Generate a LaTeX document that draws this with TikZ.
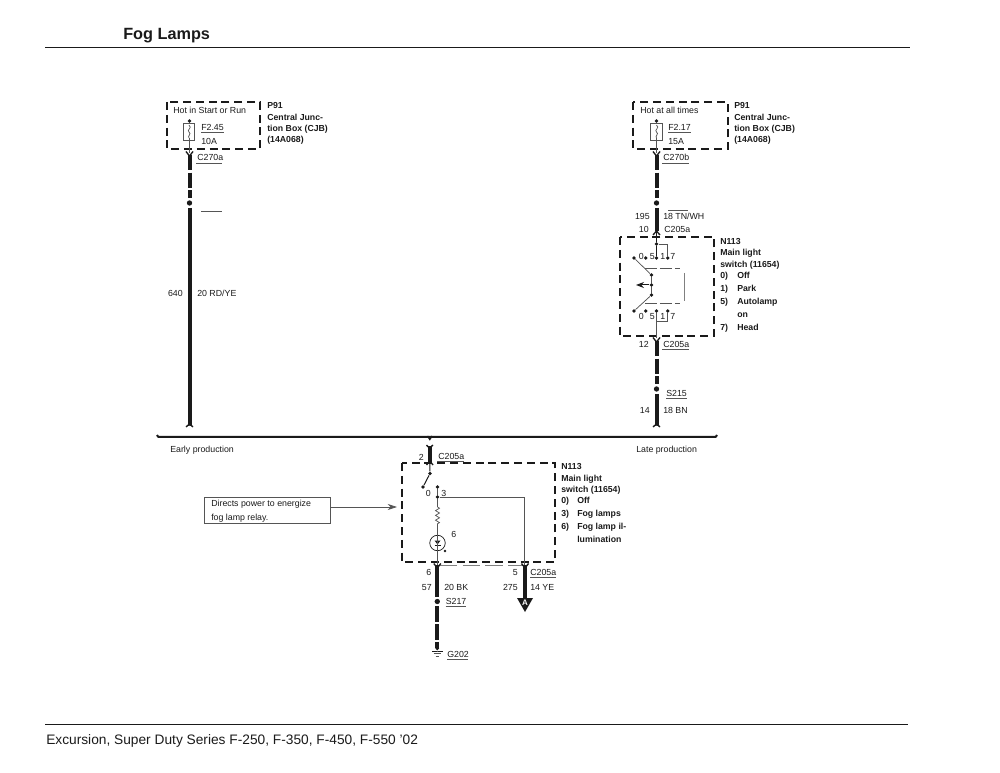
\documentclass[tikz,border=0pt]{standalone}
\usepackage{fontspec}
\setmainfont{Liberation Sans}
\usetikzlibrary{arrows.meta,decorations.pathmorphing}
\definecolor{ink}{HTML}{1A1A1A}
\definecolor{thin}{HTML}{555555}
\tikzset{
 lab/.style={anchor=base west,inner sep=0pt,yshift=-0.6pt,text=ink,font=\fontsize{6.6}{8}\selectfont},
 labr/.style={anchor=base east,inner sep=0pt,yshift=-0.6pt,text=ink,font=\fontsize{6.6}{8}\selectfont},
 bold/.style={anchor=base west,inner sep=0pt,yshift=-0.6pt,text=ink,font=\fontsize{6.55}{8}\selectfont\bfseries},
 modbox/.style={draw=ink,line width=1.5pt,dash pattern=on 6pt off 3.6pt},
 wire/.style={draw=ink,line width=3pt},
 wiredash/.style={draw=ink,line width=3pt,dash pattern=on 11.5pt off 1.8pt},
 fine/.style={draw=thin,line width=0.55pt},
 blk/.style={draw=ink,line width=0.75pt},
 pt/.style={circle,fill=ink,inner sep=0pt,minimum size=2.7pt},
 bigpt/.style={circle,fill=ink,inner sep=0pt,minimum size=4pt},
 rule/.style={draw=ink,line width=0.6pt},
 ulin/.style={draw=thin,line width=0.45pt},
 fuse/.style={draw=thin,line width=0.55pt,fill=white,minimum width=8.6pt,minimum height=12.8pt,inner sep=0pt},
 chev/.style={draw=ink,line width=1pt},
 swdash/.style={draw=thin,line width=0.55pt,dash pattern=on 9pt off 2.2pt},
}
\begin{document}
\begin{tikzpicture}[x=0.75pt,y=-0.75pt]
\useasboundingbox (0,0) rectangle (1000,773);
% header / footer
\node[anchor=base west,inner sep=0pt,text=ink,font=\fontsize{12.2}{14}\selectfont\bfseries] (title) at (123,39.5) {Fog Lamps};
\coordinate (hl) at (45,47); \coordinate (hr) at (910,47);
\draw[rule] (hl) -- (hr);
\coordinate (fl) at (45,724); \coordinate (fr) at (908,724);
\draw[rule] (fl) -- (fr);
\node[anchor=base west,inner sep=0pt,text=ink,font=\fontsize{10.3}{12}\selectfont] (foot) at (46,744) {Excursion, Super Duty Series F-250, F-350, F-450, F-550 '02};

% ---------- left fuse box
\draw[modbox] (167,102) rectangle (260,149);
\node[lab] (t1) at (173,113) {Hot in Start or Run};
\node[bold] (p1a) at (267,108) {P91};
\node[bold] (p1b) at (267,120) {Central Junc-};
\node[bold] (p1c) at (267,131) {tion Box (CJB)};
\node[bold] (p1d) at (267,142) {(14A068)};
\node[pt] (ltop) at (189.5,121) {};
\coordinate (lbot) at (189.5,153);
\draw[fine] (ltop) -- (lbot);
\node[fuse] (lfuse) at (189,131.5) {};
\draw[fine] (189,125) .. controls (193,128) and (186,130) .. (189,132) .. controls (192,134) and (187,136) .. (189,138);
\draw[fine] (189,138) -- (189,149);
\node[lab] (lf1) at (201,130) {F2.45};
\node[lab] (lf2) at (201,143.5) {10A};
\draw[ulin] (201,132.5) -- (224,132.5);
\node[lab] (lc) at (197,160) {C270a};
\draw[ulin] (196,163) -- (222,163);
\node[bigpt] (ls) at (189.5,203) {};
\coordinate (lw0) at (189.5,155);
\draw[wiredash,shorten >=1.5pt] (lw0) -- (ls);
\draw[chev] (186,151.5) -- (189.5,156) -- (193,151.5);
\coordinate (lend) at (189.5,425);
\draw[wire,shorten <=1.5pt] (ls) -- (lend);
\draw[chev] (186,427) .. controls (188,425) .. (189.5,425) .. controls (191,425) .. (193,427);
\draw[ulin] (201,211) -- (222,211);
\node[labr] (l640) at (183,296) {640};
\node[lab] (l20) at (197,296) {20 RD/YE};

% ---------- right fuse box
\draw[modbox] (633,102) rectangle (728,149);
\node[lab] (t2) at (640,113) {Hot at all times};
\node[bold] (p2a) at (734,108) {P91};
\node[bold] (p2b) at (734,120) {Central Junc-};
\node[bold] (p2c) at (734,131) {tion Box (CJB)};
\node[bold] (p2d) at (734,142) {(14A068)};
\node[pt] (rtop) at (656.5,121) {};
\coordinate (rbot) at (656.5,153);
\draw[fine] (rtop) -- (rbot);
\node[fuse] (rfuse) at (656.5,131.5) {};
\draw[fine] (656.5,125) .. controls (660.5,128) and (653.5,130) .. (656.5,132) .. controls (659.5,134) and (654.5,136) .. (656.5,138);
\draw[fine] (656.5,138) -- (656.5,149);
\node[lab] (rf1) at (668,130) {F2.17};
\node[lab] (rf2) at (668,143.5) {15A};
\draw[ulin] (668,132.5) -- (691,132.5);
\node[lab] (rc) at (663,160) {C270b};
\draw[ulin] (662,163) -- (689,163);
\node[bigpt] (rs) at (656.5,203) {};
\coordinate (rw0) at (656.5,155);
\draw[wiredash,shorten >=1.5pt] (rw0) -- (rs);
\draw[chev] (653,151.5) -- (656.5,156) -- (660,151.5);
\coordinate (rw1) at (656.5,231);
\draw[wire,shorten <=1.5pt] (rs) -- (rw1);
\draw[chev] (653,235) -- (656.5,231) -- (660,235);
\draw[ulin] (668,210) -- (688,210);
\node[labr] (r195) at (650,219) {195};
\node[lab] (r18) at (663,219) {18 TN/WH};
\node[labr] (r10) at (649,232) {10};
\node[lab] (rc2) at (664,232) {C205a};

% ---------- upper N113
\draw[modbox] (620,237) rectangle (714,336);
\node[bold] (na) at (720,244) {N113};
\node[bold] (nb) at (720,255) {Main light};
\node[bold] (nc) at (720,266.5) {switch (11654)};
\node[bold] (n0a) at (720,277.5) {0)}; \node[bold] (n0b) at (737,277.5) {Off};
\node[bold] (n1a) at (720,291) {1)}; \node[bold] (n1b) at (737,291) {Park};
\node[bold] (n5a) at (720,304) {5)}; \node[bold] (n5b) at (737,304) {Autolamp};
\node[bold] (n5c) at (737,317) {on};
\node[bold] (n7a) at (720,329.5) {7)}; \node[bold] (n7b) at (737,329.5) {Head};
% upper contacts
\node[pt] (u0) at (656.5,244) {};
\node[pt] (u5) at (656.5,258) {};
\node[pt] (u7) at (667.7,258) {};
\node[pt] (up) at (645.7,258) {};
\node[pt] (ua) at (634,258) {};
\coordinate (uc) at (667.7,244);
\draw[blk] (rw1) -- (u0) -- (u5);
\draw[fine] (u0) -- (uc) -- (u7);
\node[labr] (d0) at (644,259) {0};
\node[labr] (d5) at (655,259) {5};
\node[lab] (d1) at (660,259) {1};
\node[lab] (d7) at (670,259) {7};
\node[pt] (m1) at (651.5,275) {};
\node[pt] (m2) at (651.5,285) {};
\node[pt] (m3) at (651.5,295) {};
\node[pt] (la) at (634,311) {};
\coordinate (arrl) at (636,285);
\draw[fine] (ua) -- (m1) -- (m2) -- (m3) -- (la);
\draw[blk,-{Stealth[length=6pt,width=4.5pt]}] (m2) -- (arrl);
\draw[swdash] (645,268) -- (680,268);
\draw[swdash] (645,303) -- (680,303);
\draw[draw=gray,line width=0.7pt] (684,273) -- (684,301);
% lower contacts
\node[pt] (b0) at (645.7,311) {};
\node[pt] (b5) at (656.5,311) {};
\node[pt] (b7) at (667.7,311) {};
\coordinate (bc) at (667.7,321);
\coordinate (bj) at (656.5,321);
\coordinate (bo) at (656.5,338);
\draw[fine] (b5) -- (bo);
\draw[fine] (b7) -- (bc) -- (bj);
\node[labr] (e0) at (644,319) {0};
\node[labr] (e5) at (655,319) {5};
\node[lab] (e1) at (660,319) {1};
\node[lab] (e7) at (670,319) {7};
\coordinate (rw2) at (656.5,341);
\node[bigpt] (rs2) at (656.5,389) {};
\draw[wiredash,shorten >=1.5pt] (rw2) -- (rs2);
\draw[chev] (653,337.5) -- (656.5,342) -- (660,337.5);
\node[labr] (r12) at (649,347) {12};
\node[lab] (rc3) at (663,346.5) {C205a};
\draw[ulin] (662,349.5) -- (689,349.5);
\coordinate (rend) at (656.5,425);
\draw[wire,shorten <=1.5pt] (rs2) -- (rend);
\draw[chev] (653,427) .. controls (655,425) .. (656.5,425) .. controls (658,425) .. (660,427);
\node[lab] (s215) at (666,395.5) {S215};
\draw[ulin] (666,398.5) -- (687,398.5);
\node[labr] (r14) at (650,413) {14};
\node[lab] (r18b) at (663,413) {18 BN};

% ---------- production bar
\coordinate (pl) at (157,435); \coordinate (pl2) at (160,437);
\coordinate (pr) at (717,435); \coordinate (pr2) at (714,437);
\coordinate (pm) at (429.8,437);
\draw[draw=ink,line width=1.5pt] (pl) .. controls (158,437) .. (pl2) -- (pr2) .. controls (716,437) .. (pr);
\draw[chev] (427.5,436) -- (429.8,439.5) -- (432,436);
\node[lab] (early) at (170,452) {Early production};
\node[lab] (late) at (636,452) {Late production};

% ---------- lower N113
\draw[modbox] (402,463) rectangle (555,562);
\node[bold] (ma) at (561,469) {N113};
\node[bold] (mb) at (561,480.5) {Main light};
\node[bold] (mc) at (561,492) {switch (11654)};
\node[bold] (m0a) at (561,503) {0)}; \node[bold] (m0b) at (577,503) {Off};
\node[bold] (m3a) at (561,516) {3)}; \node[bold] (m3b) at (577,516) {Fog lamps};
\node[bold] (m6a) at (561,529) {6)}; \node[bold] (m6b) at (577,529) {Fog lamp il-};
\node[bold] (m6c) at (577,542) {lumination};
\coordinate (wt) at (429.8,446);
\coordinate (wb) at (429.8,462);
\draw[wire] (wt) -- (wb);
\draw[chev] (426.5,445) .. controls (428,447) .. (429.8,447) .. controls (431,447) .. (433,445);
\draw[chev] (426.5,465) -- (429.8,461) -- (433,465);
\node[labr] (w2) at (424,459.5) {2};
\node[lab] (wc) at (438,459) {C205a};
\draw[ulin] (437,461.5) -- (464,461.5);
\node[pt] (sw1) at (430,473.5) {};
\node[pt] (sw2) at (423,487) {};
\draw[blk] (wb) -- (sw1) -- (sw2);
\node[pt] (c0) at (437.5,487) {};
\node[pt] (c3) at (437.5,497) {};
\draw[fine] (c0) -- (c3);
\coordinate (turn) at (524.5,497);
\coordinate (twb) at (524.5,566);
\draw[fine] (c3) -- (turn) -- (twb);
\node[labr] (k0) at (431,496) {0};
\node[lab] (k3) at (441,496) {3};
\coordinate (rs1) at (437.5,507);
\coordinate (rs3) at (437.5,526);
\draw[fine] (c3) -- (rs1);
\draw[fine,decorate,decoration={zigzag,segment length=3.6pt,amplitude=1.5pt}] (rs1) -- (rs3);
\node[circle,draw=ink,line width=0.55pt,minimum size=11.6pt,inner sep=0pt] (lamp) at (437.5,543) {};
\draw[fine] (rs3) -- (lamp);
\fill[ink] (434.5,540.5) -- (440.5,540.5) -- (437.5,544.5) -- cycle;
\draw[draw=ink,line width=0.55pt] (434.5,545) -- (440.5,545);
\draw[fine] (437.5,535) -- (437.5,551);
\node[pt,minimum size=2.2pt] (ldot) at (445,551) {};
\node[lab] (k6) at (451,537) {6};
\coordinate (lampb) at (437.5,566);
\draw[fine] (lamp) -- (lampb);
\draw[draw=gray,line width=0.6pt,dash pattern=on 13pt off 4pt] (440,565) -- (524.5,565);

% ---------- callout
\node[draw=thin,line width=0.55pt,minimum width=94.5pt,minimum height=19.5pt,inner sep=0pt] (call) at (267.5,510) {};
\node[lab] (ca) at (211,506) {Directs power to energize};
\node[lab] (cb) at (211,519.5) {fog lamp relay.};
\coordinate (ctip) at (397,507);
\draw[fine,-{Stealth[length=7pt,width=4.5pt]}] (331,507) -- (ctip);

% ---------- bottom wires
\node[bigpt] (s217) at (437.3,601.5) {};
\coordinate (g1) at (437.3,565);
\draw[wire,shorten >=1.5pt] (g1) -- (s217);
\draw[chev] (433.8,563.5) -- (437.3,568) -- (440.8,563.5);
\coordinate (g2) at (437.3,648);
\draw[wiredash,shorten <=1.5pt] (s217) -- (g2);
\node[pt,minimum size=2.8pt] (gd) at (437.3,648.5) {};
\draw[blk] (432,651) -- (442.5,651);
\draw[fine] (433.5,653.5) -- (441,653.5);
\draw[fine] (435.5,656) -- (439,656);
\draw[fine] (gd) -- (437.3,651);
\node[labr] (n6) at (431.5,574.5) {6};
\node[labr] (n57) at (432,589.5) {57};
\node[lab] (n20) at (444,589.5) {20 BK};
\node[lab] (nS) at (445.5,604) {S217};
\draw[ulin] (445.5,606.5) -- (466,606.5);
\node[lab] (nG) at (447,656.5) {G202};
\draw[ulin] (447,659) -- (468,659);
\node[labr] (n5) at (518,574.5) {5};
\node[labr] (n275) at (518,589.5) {275};
\node[lab] (nc5) at (530,574.5) {C205a};
\draw[ulin] (530,577.5) -- (556,577.5);
\node[lab] (n14) at (530,589.5) {14 YE};
\coordinate (a1) at (525,565);
\coordinate (a2) at (525,600);
\draw[wire] (a1) -- (a2);
\draw[chev] (521.5,563.5) -- (525,568) -- (528.5,563.5);
\path[fill=ink] (517,598) -- (533,598) -- (525,612) -- cycle;
\node[inner sep=0pt,text=white,font=\fontsize{6}{7}\selectfont\bfseries] (arrA) at (525,603) {A};
\end{tikzpicture}
\end{document}
